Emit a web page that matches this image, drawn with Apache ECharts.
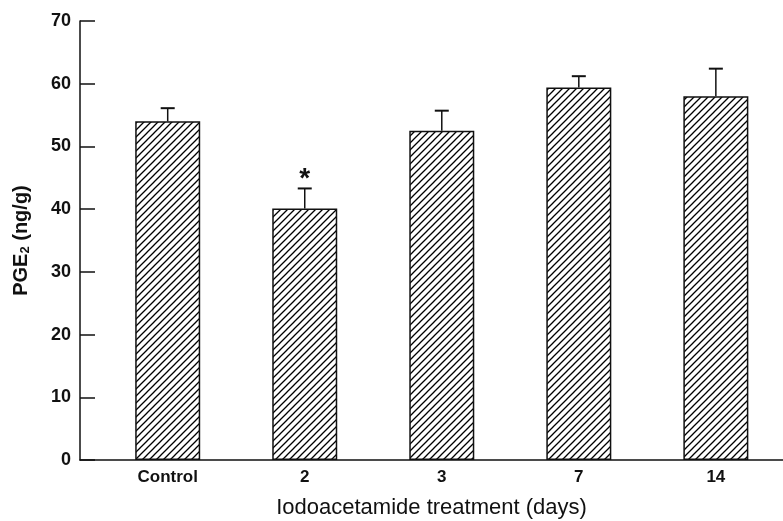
<!DOCTYPE html>
<html>
<head>
<meta charset="utf-8">
<script src="https://cdn.jsdelivr.net/npm/echarts@6/dist/echarts.min.js"></script>
<style>
  html, body { margin: 0; padding: 0; background: #fff; }
  #chart { width: 783px; height: 521px; }
</style>
</head>
<body>
<div id="chart"></div>
<script>
// data
const categories = ['Control', '2', '3', '7', '14']
const means = [54.0, 40.1, 52.5, 59.4, 58.0]
const errors = [2.1, 3.2, 3.2, 1.8, 4.4]
const marks = ['', '*', '', '', '']
const yTicks = [0, 10, 20, 30, 40, 50, 60, 70]

const chart = echarts.init(document.getElementById('chart'))

// diagonal hatch like the printed bars
function hatch () {
  const c = document.createElement('canvas')
  const s = 7
  c.width = s
  c.height = s
  const ctx = c.getContext('2d')
  ctx.fillStyle = '#fff'
  ctx.fillRect(0, 0, s, s)
  ctx.strokeStyle = '#000'
  ctx.lineWidth = 1.3
  ctx.beginPath()
  ctx.moveTo(-1, s + 1)
  ctx.lineTo(s + 1, -1)
  ctx.moveTo(-1, 1)
  ctx.lineTo(1, -1)
  ctx.moveTo(s - 1, s + 1)
  ctx.lineTo(s + 1, s - 1)
  ctx.stroke()
  return c
}

const font = 'Liberation Sans, Arial, Helvetica, sans-serif'

chart.setOption({
  animation: false,
  backgroundColor: '#fff',
  grid: { left: 80, right: 0, top: 21, bottom: 61, outerBoundsMode: 'none' },
  xAxis: {
    type: 'value',
    min: -0.64,
    max: 4.49,
    name: 'Iodoacetamide treatment (days)',
    nameLocation: 'middle',
    nameGap: 37,
    nameTextStyle: { fontFamily: font, fontSize: 22, color: '#111', verticalAlign: 'top' },
    splitLine: { show: false },
    axisTick: { show: false },
    axisLine: { onZero: false, lineStyle: { color: '#111', width: 1.5 } },
    axisLabel: {
      customValues: categories.map((c, i) => i),
      formatter: v => categories[Math.round(v)],
      fontFamily: font,
      fontSize: 17,
      fontWeight: 'bold',
      color: '#111',
      margin: 9
    }
  },
  yAxis: {
    type: 'value',
    min: yTicks[0],
    max: yTicks[yTicks.length - 1],
    interval: 10,
    name: '{a|PGE}{s|2}{a| (ng/g)}',
    nameLocation: 'middle',
    nameGap: 48,
    nameTextStyle: {
      rich: {
        a: { fontFamily: font, fontSize: 20, fontWeight: 'bold', color: '#111' },
        s: { fontFamily: font, fontSize: 13, fontWeight: 'bold', color: '#111', verticalAlign: 'bottom', padding: [9, 0, 0, 0] }
      }
    },
    splitLine: { show: false },
    axisLine: { show: true, onZero: false, lineStyle: { color: '#111', width: 1.5 } },
    axisTick: { show: true, inside: true, length: 15, lineStyle: { color: '#111', width: 1.5 } },
    axisLabel: { fontFamily: font, fontSize: 18, fontWeight: 'bold', color: '#111', margin: 9 }
  },
  series: [
    {
      type: 'bar',
      barWidth: 65,
      data: means.map((m, i) => [i, m]),
      itemStyle: {
        color: { image: hatch(), repeat: 'repeat' },
        borderColor: '#111',
        borderWidth: 1.5
      },
      z: 2
    },
    {
      type: 'custom',
      data: means.map((m, i) => [i, m, m + errors[i]]),
      z: 3,
      renderItem: function (params, api) {
        const x = api.value(0)
        const base = api.coord([x, api.value(1)])
        const top = api.coord([x, api.value(2)])
        const children = [
          { type: 'line', shape: { x1: base[0], y1: base[1], x2: top[0], y2: top[1] }, style: { stroke: '#111', lineWidth: 1.5 } },
          { type: 'line', shape: { x1: top[0] - 7, y1: top[1], x2: top[0] + 7, y2: top[1] }, style: { stroke: '#111', lineWidth: 2 } }
        ]
        const t = marks[params.dataIndex]
        if (t) {
          children.push({
            type: 'text',
            style: { text: t, x: top[0], y: top[1] + 5, align: 'center', verticalAlign: 'bottom', fontSize: 28, fontWeight: 'bold', fontFamily: font, fill: '#111' }
          })
        }
        return { type: 'group', children: children }
      }
    }
  ]
})
</script>
</body>
</html>
